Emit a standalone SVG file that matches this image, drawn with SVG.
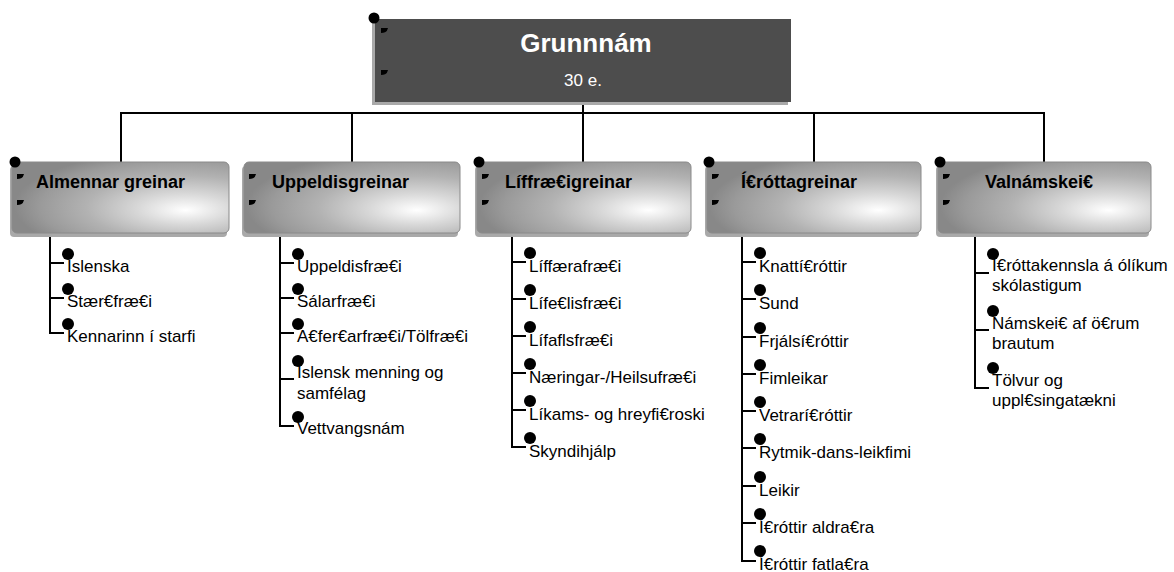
<svg xmlns="http://www.w3.org/2000/svg" width="1174" height="572" viewBox="0 0 1174 572">
<style>
  .conn { stroke:#000; stroke-width:2; fill:none; }
  .hdr { font-family:"Liberation Sans", Arial, sans-serif; font-weight:bold; font-size:18px; fill:#000; }
  .item { font-family:"Liberation Sans", Arial, sans-serif; font-size:17px; fill:#000; }
  .title { font-family:"Liberation Sans", Arial, sans-serif; font-weight:bold; font-size:26px; fill:#fff; }
  .sub { font-family:"Liberation Sans", Arial, sans-serif; font-size:17px; fill:#fff; }
  .shadow { fill:#a9a9a9; }
  .box { fill:url(#boxGrad); stroke:#8a8a8a; stroke-width:1; }
  .dot { fill:#000; }
</style>
<defs>
  <radialGradient id="boxGrad" cx="0.79" cy="0.62" r="0.78" fx="0.8" fy="0.68">
    <stop offset="0" stop-color="#ffffff"/>
    <stop offset="0.08" stop-color="#f4f4f4"/>
    <stop offset="0.28" stop-color="#d8d8d8"/>
    <stop offset="0.58" stop-color="#b2b2b2"/>
    <stop offset="0.85" stop-color="#9a9a9a"/>
    <stop offset="1" stop-color="#888888"/>
  </radialGradient>
  <path id="mark" d="M0,0 h7 l-1,2.5 q-1,2 -6,2.5 z"/>
</defs>

<g id="connectors">
  <line class="conn" x1="583" y1="104" x2="583" y2="113"/>
  <line class="conn" x1="120" y1="113" x2="1045" y2="113"/>
  <line class="conn" x1="121" y1="113" x2="121" y2="162"/>
  <line class="conn" x1="352" y1="113" x2="352" y2="162"/>
  <line class="conn" x1="583" y1="113" x2="583" y2="162"/>
  <line class="conn" x1="814" y1="113" x2="814" y2="162"/>
  <line class="conn" x1="1044" y1="113" x2="1044" y2="162"/>
  <path class="conn" d="M50,237 V333 H64 M50,263 H64 M50,298 H64"/>
  <path class="conn" d="M280,237 V426 H294 M280,263 H294 M280,298 H294 M280,333 H294 M280,379 H294"/>
  <path class="conn" d="M512,237 V447 H526 M512,262 H526 M512,299 H526 M512,336 H526 M512,373 H526 M512,410 H526"/>
  <path class="conn" d="M742,237 V561 H756 M742,262 H756 M742,299 H756 M742,337 H756 M742,374 H756 M742,411 H756 M742,448 H756 M742,486 H756 M742,523 H756"/>
  <path class="conn" d="M975,237 V388 H989 M975,273 H989 M975,330 H989"/>
</g>

<g id="node-root">
  <rect x="372" y="22" width="416" height="83" fill="#a9a9a9"/>
  <rect x="375" y="19" width="416" height="83" fill="#4d4d4d"/>
  <circle class="dot" cx="374" cy="18" r="5.5"/>
  <use href="#mark" x="381" y="28"/>
  <use href="#mark" x="381" y="70"/>
  <text class="title" x="586" y="52" text-anchor="middle">Grunnnám</text>
  <text class="sub" x="583" y="86" text-anchor="middle">30 e.</text>
</g>

<g id="node-almennar">
  <rect class="shadow" x="10" y="166" width="217" height="71" rx="4"/>
  <rect class="box" x="12" y="162" width="217" height="71" rx="5"/>
  <circle class="dot" cx="15" cy="162" r="5.5"/>
  <use href="#mark" x="17" y="174"/>
  <use href="#mark" x="17" y="200"/>
  <text class="hdr" x="36" y="188">Almennar greinar</text>
  <circle class="dot" cx="68" cy="254" r="6"/>
  <text class="item" x="67" y="272">Íslenska</text>
  <circle class="dot" cx="68" cy="289" r="6"/>
  <text class="item" x="67" y="307">Stær€fræ€i</text>
  <circle class="dot" cx="68" cy="324" r="6"/>
  <text class="item" x="67" y="342">Kennarinn í starfi</text>
</g>

<g id="node-uppeldis">
  <rect class="shadow" x="242" y="166" width="216" height="71" rx="4"/>
  <rect class="box" x="244" y="162" width="216" height="71" rx="5"/>
  <use href="#mark" x="249" y="174"/>
  <use href="#mark" x="249" y="200"/>
  <text class="hdr" x="272" y="188">Uppeldisgreinar</text>
  <circle class="dot" cx="298" cy="254" r="6"/>
  <text class="item" x="297" y="272">Uppeldisfræ€i</text>
  <circle class="dot" cx="298" cy="289" r="6"/>
  <text class="item" x="297" y="307">Sálarfræ€i</text>
  <circle class="dot" cx="298" cy="324" r="6"/>
  <text class="item" x="297" y="342">A€fer€arfræ€i/Tölfræ€i</text>
  <circle class="dot" cx="298" cy="361" r="6"/>
  <text class="item" x="297" y="378">Íslensk menning og</text>
  <text class="item" x="297" y="399">samfélag</text>
  <circle class="dot" cx="298" cy="417" r="6"/>
  <text class="item" x="297" y="434">Vettvangsnám</text>
</g>

<g id="node-liffraedi">
  <rect class="shadow" x="475" y="166" width="214" height="71" rx="4"/>
  <rect class="box" x="477" y="162" width="214" height="71" rx="5"/>
  <circle class="dot" cx="479" cy="162" r="5.5"/>
  <use href="#mark" x="482" y="174"/>
  <use href="#mark" x="482" y="200"/>
  <text class="hdr" x="505" y="188">Líffræ€igreinar</text>
  <circle class="dot" cx="530" cy="253" r="6"/>
  <text class="item" x="529" y="272">Líffærafræ€i</text>
  <circle class="dot" cx="530" cy="290" r="6"/>
  <text class="item" x="529" y="309">Lífe€lisfræ€i</text>
  <circle class="dot" cx="530" cy="327" r="6"/>
  <text class="item" x="529" y="346">Lífaflsfræ€i</text>
  <circle class="dot" cx="530" cy="364" r="6"/>
  <text class="item" x="529" y="383">Næringar-/Heilsufræ€i</text>
  <circle class="dot" cx="530" cy="401" r="6"/>
  <text class="item" x="529" y="420">Líkams- og hreyfi€roski</text>
  <circle class="dot" cx="530" cy="438" r="6"/>
  <text class="item" x="529" y="457">Skyndihjálp</text>
</g>

<g id="node-ithrottir">
  <rect class="shadow" x="705" y="166" width="214" height="71" rx="4"/>
  <rect class="box" x="707" y="162" width="214" height="71" rx="5"/>
  <circle class="dot" cx="709" cy="162" r="5.5"/>
  <use href="#mark" x="712" y="174"/>
  <use href="#mark" x="712" y="200"/>
  <text class="hdr" x="741" y="188">Í€róttagreinar</text>
  <circle class="dot" cx="760" cy="253" r="6"/>
  <text class="item" x="759" y="272">Knattí€róttir</text>
  <circle class="dot" cx="760" cy="290" r="6"/>
  <text class="item" x="759" y="309">Sund</text>
  <circle class="dot" cx="760" cy="328" r="6"/>
  <text class="item" x="759" y="347">Frjálsí€róttir</text>
  <circle class="dot" cx="760" cy="365" r="6"/>
  <text class="item" x="759" y="384">Fimleikar</text>
  <circle class="dot" cx="760" cy="402" r="6"/>
  <text class="item" x="759" y="421">Vetrarí€róttir</text>
  <circle class="dot" cx="760" cy="439" r="6"/>
  <text class="item" x="759" y="458">Rytmik-dans-leikfimi</text>
  <circle class="dot" cx="760" cy="477" r="6"/>
  <text class="item" x="759" y="496">Leikir</text>
  <circle class="dot" cx="760" cy="514" r="6"/>
  <text class="item" x="759" y="533">Í€róttir aldra€ra</text>
  <circle class="dot" cx="760" cy="551" r="6"/>
  <text class="item" x="759" y="570">Í€róttir fatla€ra</text>
</g>

<g id="node-valnamskeid">
  <rect class="shadow" x="936" y="166" width="213" height="71" rx="4"/>
  <rect class="box" x="938" y="162" width="213" height="71" rx="5"/>
  <circle class="dot" cx="940" cy="162" r="5.5"/>
  <use href="#mark" x="943" y="174"/>
  <use href="#mark" x="943" y="200"/>
  <text class="hdr" x="985" y="188">Valnámskei€</text>
  <circle class="dot" cx="993" cy="254" r="6"/>
  <text class="item" x="992" y="271">Í€róttakennsla á ólíkum</text>
  <text class="item" x="992" y="291">skólastigum</text>
  <circle class="dot" cx="993" cy="311" r="6"/>
  <text class="item" x="992" y="329">Námskei€ af ö€rum</text>
  <text class="item" x="992" y="349">brautum</text>
  <circle class="dot" cx="993" cy="368" r="6"/>
  <text class="item" x="992" y="386">Tölvur og</text>
  <text class="item" x="992" y="406">uppl€singatækni</text>
</g>
</svg>
